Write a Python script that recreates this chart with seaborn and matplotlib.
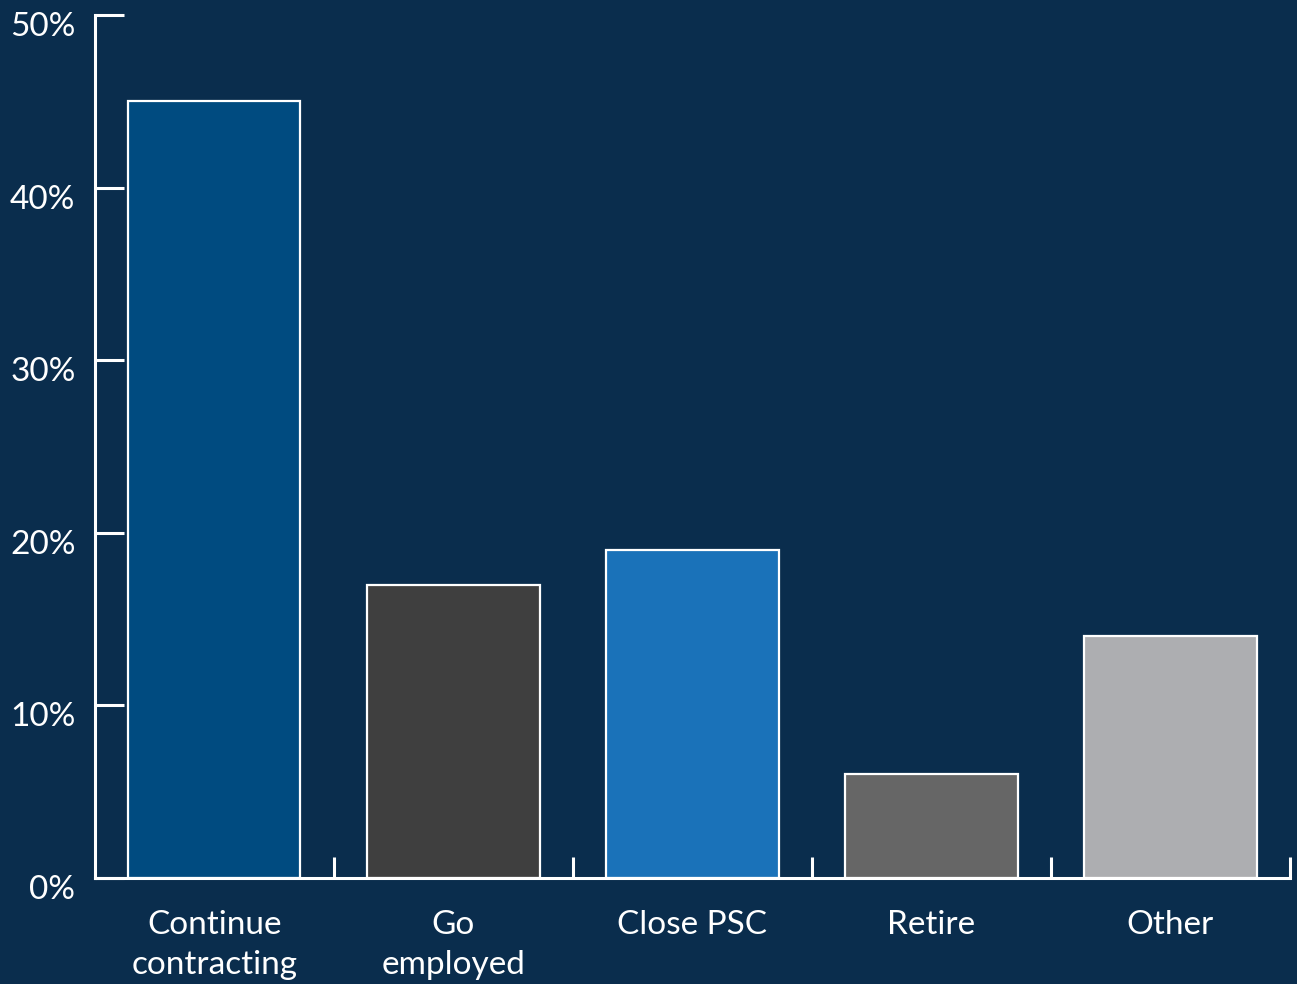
import matplotlib
matplotlib.use('Agg')
import matplotlib.pyplot as plt
import matplotlib.transforms as mtransforms
import seaborn as sns
import pandas as pd

# data
categories = ['Continue\ncontracting', 'Go\nemployed', 'Close PSC', 'Retire', 'Other']
shares = [45, 17, 19, 6, 14]
bar_colors = ['#004b80', '#3f3f3f', '#1a72b9', '#666666', '#adaeb1']
y_ticks = [0, 10, 20, 30, 40, 50]

bg = '#0a2d4d'

sns.set_style('white')
plt.rcParams['font.family'] = ['Lato', 'DejaVu Sans']

df = pd.DataFrame({'cat': categories, 'share': shares})

fig = plt.figure(figsize=(12.97, 9.84), dpi=100, facecolor=bg)
ax = fig.add_axes([0.0732, 0.1077, 0.9214, 0.8771])
ax.set_facecolor(bg)

sns.barplot(data=df, x='cat', y='share', hue='cat', palette=bar_colors,
            legend=False, width=0.72, edgecolor='white', linewidth=1.6,
            saturation=1, ax=ax)

ax.set_xlim(-0.5, 4.5)
ax.set_ylim(0, 50)
ax.set_xlabel('')
ax.set_ylabel('')

for s in ['top', 'right']:
    ax.spines[s].set_visible(False)
for s in ['left', 'bottom']:
    ax.spines[s].set_color('white')
    ax.spines[s].set_linewidth(2.2)

ax.set_yticks(y_ticks)
ax.set_yticklabels([f'{t}%' for t in y_ticks])
ax.tick_params(axis='y', direction='in', length=21, width=2.2, color='white',
               labelcolor='white', labelsize=24, pad=14, left=True)
offset = mtransforms.ScaledTranslation(0, -9 / 100, fig.dpi_scale_trans)
for lab in ax.get_yticklabels():
    lab.set_transform(lab.get_transform() + offset)

ax.set_xticks(range(len(categories)))
ax.set_xticklabels(categories, linespacing=1.4)
ax.tick_params(axis='x', which='major', length=0, labelcolor='white',
               labelsize=24, pad=23)
ax.set_xticks([i + 0.5 for i in range(len(categories))], minor=True)
ax.tick_params(axis='x', which='minor', direction='in', length=15, width=2.2,
               color='white', bottom=True)

fig.savefig('out.png', dpi=100, facecolor=bg)
